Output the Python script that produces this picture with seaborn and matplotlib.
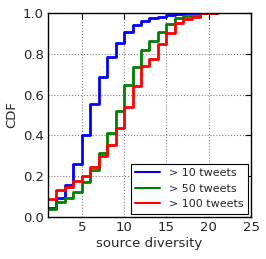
import matplotlib
matplotlib.use("Agg")
import matplotlib.pyplot as plt
import pandas as pd
import seaborn as sns

# CDF of source diversity, one series per tweet threshold
diversity = list(range(1, 22))
cdf_10 = [0.045, 0.093, 0.157, 0.258, 0.40, 0.555, 0.688, 0.786, 0.855, 0.908, 0.941,
          0.96, 0.974, 0.982, 0.99, 0.995, 1.0, 1.0, 1.0, 1.0, 1.0]
cdf_50 = [0.04, 0.075, 0.095, 0.124, 0.17, 0.23, 0.315, 0.413, 0.52, 0.645, 0.733,
          0.82, 0.864, 0.908, 0.948, 0.974, 0.987, 0.987, 1.0, 1.0, 1.0]
cdf_100 = [0.088, 0.132, 0.149, 0.178, 0.20, 0.245, 0.30, 0.353, 0.435, 0.54, 0.64,
           0.74, 0.773, 0.848, 0.90, 0.95, 0.97, 0.98, 1.0, 1.0, 1.0]
labels = ["> 10 tweets", "> 50 tweets", "> 100 tweets"]
colors = ["#0000ff", "#008000", "#ff0000"]

xticks = [5, 10, 15, 20, 25]
yticks = [0.0, 0.2, 0.4, 0.6, 0.8, 1.0]

sns.set_style("white")
plt.rcParams['font.family'] = ['DejaVu Sans']
plt.rcParams['xtick.direction'] = 'in'
plt.rcParams['ytick.direction'] = 'in'
plt.rcParams['xtick.top'] = True
plt.rcParams['ytick.right'] = True

df = pd.concat([
    pd.DataFrame({'diversity': diversity, 'cdf': vals, 'group': lab})
    for vals, lab in zip([cdf_10, cdf_50, cdf_100], labels)
])

fig = plt.figure(figsize=(2.66, 2.59), dpi=100)
ax = fig.add_axes([0.18, 0.162, 0.764, 0.788])

sns.lineplot(data=df, x='diversity', y='cdf', hue='group', hue_order=labels,
             palette=colors, drawstyle='steps-post', linewidth=2,
             errorbar=None, ax=ax)

ax.set_xlim(1, 25)
ax.set_ylim(0, 1)
ax.set_xticks(xticks)
ax.set_yticks(yticks)
ax.set_yticklabels([f"{t:.1f}" for t in yticks])
ax.tick_params(labelsize=9.5, length=4, width=0.8, color='black', pad=3)
ax.grid(True, color='0.5', linestyle=':', linewidth=0.8)
for s in ax.spines.values():
    s.set_color('black')
    s.set_linewidth(1)

ax.set_xlabel('source diversity', fontsize=9.5, labelpad=2)
ax.set_ylabel('CDF', fontsize=9.5, labelpad=3)

leg = ax.legend(loc='lower right', fancybox=False, edgecolor='black', fontsize=8,
                handlelength=2.2, framealpha=1, borderaxespad=0.3)
leg.get_frame().set_linewidth(0.8)
for line in leg.get_lines():
    line.set_linewidth(1.5)

fig.savefig('out.png', dpi=100, facecolor='white')
